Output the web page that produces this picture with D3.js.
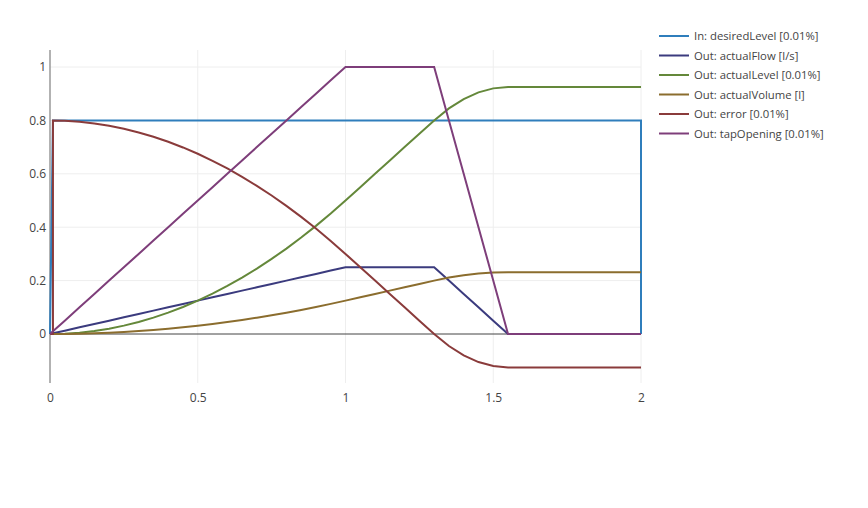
<!DOCTYPE html>
<html><head><meta charset="utf-8">
<script src="https://cdn.jsdelivr.net/npm/d3@7"></script>
<style>body{margin:0;background:#fff}text{font-family:"Open Sans",sans-serif;fill:#444;font-size:12px}</style>
</head><body><svg id="c" width="868" height="508"></svg>
<script>
const times = [0,0.01,0.05,0.1,0.15,0.2,0.25,0.3,0.35,0.4,0.45,0.5,0.55,0.6,0.65,0.7,0.75,0.8,0.85,0.9,0.95,1.0,1.05,1.1,1.15,1.2,1.25,1.3,1.35,1.4,1.45,1.5,1.55,1.6,1.65,1.7,1.75,1.8,1.85,1.9,1.95,2.0];
const desiredX = [0,0.01,2,2];
const desiredLevel = [0,0.8,0.8,0];
const errorX = [0,0.01,0.01,0.05,0.1,0.15,0.2,0.25,0.3,0.35,0.4,0.45,0.5,0.55,0.6,0.65,0.7,0.75,0.8,0.85,0.9,0.95,1.0,1.05,1.1,1.15,1.2,1.25,1.3,1.35,1.4,1.45,1.5,1.55,1.6,1.65,1.7,1.75,1.8,1.85,1.9,1.95,2.0];
const actualFlow = [0,0.0025,0.0125,0.025,0.0375,0.05,0.0625,0.075,0.0875,0.1,0.1125,0.125,0.1375,0.15,0.1625,0.175,0.1875,0.2,0.2125,0.225,0.2375,0.25,0.25,0.25,0.25,0.25,0.25,0.25,0.2,0.15,0.1,0.05,0,0,0,0,0,0,0,0,0,0];
const actualLevel = [0,0.00005,0.0013,0.005,0.0113,0.02,0.0313,0.045,0.0613,0.08,0.1013,0.125,0.1513,0.18,0.2113,0.245,0.2813,0.32,0.3613,0.405,0.4513,0.5,0.55,0.6,0.65,0.7,0.75,0.8,0.845,0.88,0.905,0.92,0.925,0.925,0.925,0.925,0.925,0.925,0.925,0.925,0.925,0.925];
const actualVolume = [0,0.0000125,0.0003,0.00125,0.0028,0.005,0.0078,0.01125,0.0153,0.02,0.0253,0.03125,0.0378,0.045,0.0528,0.06125,0.0703,0.08,0.0903,0.10125,0.1128,0.125,0.1375,0.15,0.1625,0.175,0.1875,0.2,0.21125,0.22,0.22625,0.23,0.23125,0.23125,0.23125,0.23125,0.23125,0.23125,0.23125,0.23125,0.23125,0.23125];
const errorVals = [0,0,0.8,0.7987,0.795,0.7887,0.78,0.7687,0.755,0.7387,0.72,0.6987,0.675,0.6487,0.62,0.5887,0.555,0.5187,0.48,0.4387,0.395,0.3487,0.3,0.25,0.2,0.15,0.1,0.05,0,-0.045,-0.08,-0.105,-0.12,-0.125,-0.125,-0.125,-0.125,-0.125,-0.125,-0.125,-0.125,-0.125,-0.125];
const tapOpening = [0,0.01,0.05,0.1,0.15,0.2,0.25,0.3,0.35,0.4,0.45,0.5,0.55,0.6,0.65,0.7,0.75,0.8,0.85,0.9,0.95,1,1,1,1,1,1,1,0.8,0.6,0.4,0.2,0,0,0,0,0,0,0,0,0,0];
const xTicks = [0,0.5,1,1.5,2];
const yTicks = [0,0.2,0.4,0.6,0.8,1];
const names = ["In: desiredLevel [0.01%]","Out: actualFlow [l/s]","Out: actualLevel [0.01%]","Out: actualVolume [l]","Out: error [0.01%]","Out: tapOpening [0.01%]"];
const colors = ["#2f7ebc","#3b3b7e","#64883a","#8b6d2e","#8a3b3b","#7e3e7a"];

const svg = d3.select("#c");
const x = d3.scaleLinear().domain([0,2]).range([50,641]);
const y = d3.scaleLinear().domain([-0.1835,1.0637]).range([383,50]);
const g = svg.append("g");
g.selectAll(".gx").data(xTicks.slice(1)).join("line").attr("x1",d=>x(d)).attr("x2",d=>x(d)).attr("y1",50).attr("y2",383).attr("stroke","#eee");
g.selectAll(".gy").data(yTicks.slice(1)).join("line").attr("x1",50).attr("x2",641).attr("y1",d=>y(d)).attr("y2",d=>y(d)).attr("stroke","#eee");
g.append("line").attr("x1",50).attr("x2",641).attr("y1",y(0)).attr("y2",y(0)).attr("stroke","#444").attr("stroke-width",1);
g.append("line").attr("x1",50).attr("x2",50).attr("y1",50).attr("y2",383).attr("stroke","#999").attr("stroke-width",1.5);
const xa = svg.append("g").attr("transform","translate(0,383)").call(d3.axisBottom(x).tickValues(xTicks).tickSize(0).tickPadding(10).tickFormat(d3.format("")));
xa.select(".domain").remove();
const ya = svg.append("g").attr("transform","translate(50,0)").call(d3.axisLeft(y).tickValues(yTicks).tickSize(0).tickPadding(4).tickFormat(d3.format("")));
ya.select(".domain").remove();
svg.selectAll(".tick text").style("font-family","'Open Sans',sans-serif").style("font-size","12px").attr("fill","#444");

const series = [[desiredX,desiredLevel],[times,actualFlow],[times,actualLevel],[times,actualVolume],[errorX,errorVals],[times,tapOpening]];
const line = d3.line().x(d=>x(d[0])).y(d=>y(d[1]));
series.forEach((s,i)=>{
  svg.append("path").attr("d",line(s[0].map((t,j)=>[t,s[1][j]]))).attr("fill","none").attr("stroke",colors[i]).attr("stroke-width",2);
});
const lg = svg.append("g");
names.forEach((n,i)=>{
  const yy = 36 + i*19.5;
  lg.append("line").attr("x1",659).attr("x2",689).attr("y1",yy).attr("y2",yy).attr("stroke",colors[i]).attr("stroke-width",2);
  lg.append("text").attr("x",694).attr("y",yy+4).style("font-size","11.3px").text(n);
});
</script></body></html>
